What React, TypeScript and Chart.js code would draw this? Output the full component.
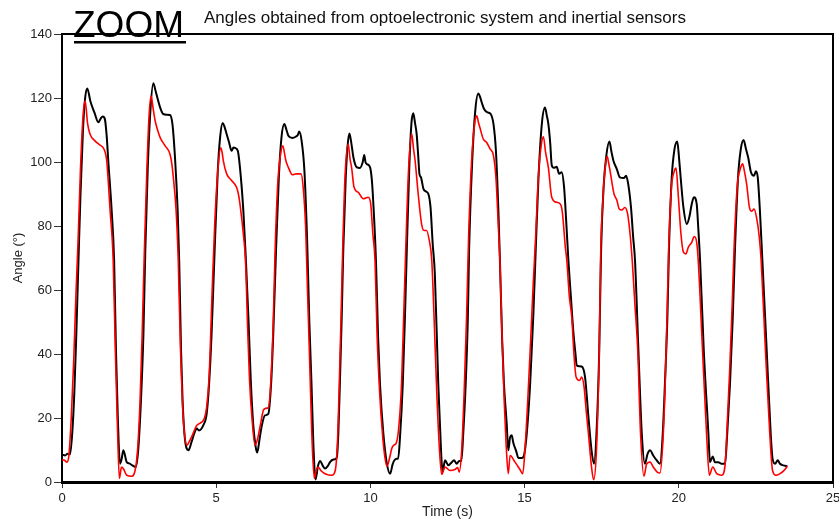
import React, { useEffect, useRef } from 'react';
import { Chart, registerables } from 'chart.js';

Chart.register(...registerables);

const chartTitle = 'Angles obtained from optoelectronic system and inertial sensors';
const zoomLabel = 'ZOOM';
const xAxisTitle = 'Time (s)';
const yAxisTitle = 'Angle (°)';

const xTickValues = [0, 5, 10, 15, 20, 25];
const yTickValues = [0, 20, 40, 60, 80, 100, 120, 140];

// Optoelectronic system (black)
const opticalTime = [
  0.0, 0.1, 0.18, 0.26, 0.33, 0.4, 0.46, 0.53, 0.6, 0.68, 0.75, 0.82, 0.92, 1.05, 1.18, 1.25, 1.32, 1.39, 1.45, 1.5, 1.61, 1.69, 1.75, 1.81, 1.88, 1.93, 1.99, 2.1, 2.18, 2.28, 2.39, 2.47, 2.56, 2.64,
  2.7, 2.78, 2.86, 2.96, 3.04, 3.12, 3.2, 3.28, 3.4, 3.5, 3.58, 3.67, 3.75, 3.8, 3.86, 3.91, 3.98, 4.1, 4.2, 4.3, 4.37, 4.44, 4.58, 4.69, 4.77, 4.85,
  4.94, 5.05, 5.13, 5.21, 5.27, 5.34, 5.42, 5.5, 5.56, 5.61, 5.7, 5.77, 5.88, 5.96, 6.05, 6.12, 6.2, 6.28, 6.33, 6.4, 6.47, 6.58, 6.69, 6.78, 6.85,
  6.94, 7.03, 7.12, 7.21, 7.28, 7.34, 7.47, 7.58, 7.65, 7.69, 7.77, 7.86, 7.95, 8.02, 8.09, 8.15, 8.22, 8.3, 8.37, 8.45, 8.53, 8.62, 8.69, 8.8, 8.91, 8.96, 9.01, 9.07,
  9.12, 9.2, 9.26, 9.32, 9.38, 9.45, 9.56, 9.66, 9.75, 9.8, 9.84, 9.88, 9.99, 10.05, 10.09, 10.18, 10.25, 10.31, 10.42, 10.53, 10.64, 10.72, 10.78, 10.85, 10.9, 10.96, 11.05, 11.12,
  11.18, 11.26, 11.33, 11.39, 11.45, 11.5, 11.55, 11.59, 11.64, 11.72, 11.8, 11.88, 11.95, 12.02, 12.09, 12.2, 12.29, 12.34, 12.42, 12.53, 12.64, 12.71, 12.8, 12.88, 12.95, 13.01, 13.09, 13.16,
  13.2, 13.3, 13.4, 13.5, 13.55, 13.61, 13.69, 13.8, 13.9, 13.99, 14.07, 14.15, 14.2, 14.27, 14.33, 14.42, 14.47, 14.53, 14.58, 14.64, 14.72, 14.8, 14.91, 14.98, 15.07, 15.18, 15.28,
  15.36, 15.45, 15.56, 15.66, 15.72, 15.77, 15.83, 15.88, 15.95, 16.04, 16.12, 16.2, 16.28, 16.36, 16.42, 16.5, 16.58, 16.65, 16.69, 16.77, 16.85, 16.96, 17.07, 17.17, 17.25, 17.33, 17.42,
  17.48, 17.56, 17.65, 17.75, 17.82, 17.88, 17.99, 18.09, 18.22, 18.29, 18.36, 18.45, 18.52, 18.58, 18.69, 18.8, 18.9, 18.99, 19.07, 19.17, 19.28, 19.39, 19.48, 19.55, 19.63,
  19.68, 19.77, 19.86, 19.95, 20.01, 20.06, 20.15, 20.26, 20.34, 20.42, 20.49, 20.58, 20.63, 20.69, 20.81, 20.96, 21.01, 21.1, 21.17, 21.28, 21.39, 21.5, 21.57, 21.66, 21.75,
  21.82, 21.92, 22.01, 22.1, 22.18, 22.25, 22.34, 22.44, 22.5, 22.56, 22.63, 22.71, 22.85, 22.98, 23.04, 23.12, 23.21, 23.28, 23.39, 23.52,
];
const opticalAngle = [
  8.6, 8.3, 8.8, 8.6, 15, 28, 45, 68, 90, 110, 120, 123, 119, 115.5, 112.4, 113.5, 114.2, 113.4, 108, 100.4, 84.8, 69.2, 41.1, 20, 5.7, 7, 9.9, 6.2, 5.8, 5.2, 4.7, 9.9, 25.5, 46.3,
  72, 98, 115, 124.6, 122, 119.1, 116.5, 115, 114.8, 114.7, 111.9, 100.4, 84.8, 69.2, 41.1, 25.5, 14, 9.9, 12.5, 15.5, 16.7, 16.1, 17.7, 21.3, 30.7, 46.3,
  70, 97, 108, 112.2, 111, 108.7, 106, 103.5, 104.5, 104.4, 103.5, 98.3, 84.8, 70, 50, 32, 18, 11, 9.2, 13, 17.2, 20.8, 21.3, 30.7, 46.3,
  72.4, 95, 108, 111.9, 110, 108.2, 107.5, 107.9, 108.5, 109.5, 106.6, 97.3, 75, 50, 30.7, 12, 0.8, 5, 6.6, 5.2, 4.2, 5, 6.2, 7, 7.6, 15.1, 30.7, 51.5,
  72.4, 95, 105, 108.9, 106, 101.4, 98.3, 98.1, 99.9, 102.2, 100, 99.4, 98.3, 94, 87.9, 69.2, 45, 30.7, 15.1, 6, 2.6, 5.5, 6.8, 7.3, 7.3, 14, 30.7, 51.5,
  72.4, 98, 112, 115.2, 112, 108.7, 102, 96.3, 95.2, 91.6, 90.8, 90, 85.8, 74.4, 65, 30.7, 9.9, 3.1, 6.8, 5.2, 6.2, 6.8, 5.7, 6.6, 6.6, 15.1, 30.7, 51.5,
  72.4, 100, 116, 121.4, 120.5, 118.6, 116.5, 115.5, 115, 111.9, 103.5, 84.8, 69.2, 45, 30.7, 18.2, 9.9, 14, 14.6, 12, 9.9, 7.5, 7.5, 8.3, 15.1, 30.7, 51.5,
  72.4, 95, 112, 117, 114.5, 111.9, 106, 99, 98.2, 98.5, 96.3, 96.8, 92.1, 79.6, 69.2, 58, 47, 40, 36.4, 36.2, 36.1, 32.8, 20.3, 9.9, 5.7, 15.1, 41.1,
  72.4, 92, 102, 106.4, 103, 100.4, 97.8, 95.2, 95, 95.7, 93.1, 85.8, 76.5, 69.2, 41.1, 15.1, 5.7, 8.9, 9.9, 8.3, 6.8, 5.7, 15.1, 30.7, 51.5,
  72.4, 95, 104, 106.4, 101, 95.2, 85.8, 80.6, 82.7, 86.9, 89, 86.9, 79.6, 69.2, 41.1, 15.1, 6.2, 8, 6.2, 6.2, 5.7, 5.7, 15.1, 30.7, 51.5,
  72.4, 95, 104, 106.9, 104, 101.4, 96.8, 95.7, 97.1, 95.2, 84.8, 69.2, 41.1, 15.1, 7.3, 5.7, 6.8, 5.7, 5.2, 4.9,
];

// Inertial sensors (red)
const inertialTime = [
  0.0, 0.08, 0.16, 0.22, 0.3, 0.38, 0.45, 0.52, 0.6, 0.68, 0.75, 0.83, 0.91, 1.07, 1.2, 1.34, 1.4, 1.45, 1.56, 1.66, 1.73, 1.79, 1.86, 1.93, 2.0, 2.1, 2.26, 2.37, 2.45, 2.53, 2.6,
  2.67, 2.75, 2.82, 2.89, 2.95, 3.02, 3.1, 3.18, 3.34, 3.5, 3.56, 3.61, 3.7, 3.77, 3.84, 3.9, 3.96, 4.05, 4.12, 4.2, 4.37, 4.53, 4.62, 4.69, 4.77,
  4.87, 4.95, 5.05, 5.15, 5.2, 5.23, 5.34, 5.5, 5.66, 5.72, 5.77, 5.88, 5.95, 6.02, 6.08, 6.16, 6.26, 6.33, 6.42, 6.53, 6.6, 6.69, 6.78, 6.85,
  6.91, 7.0, 7.08, 7.16, 7.21, 7.26, 7.34, 7.47, 7.61, 7.75, 7.82, 7.9, 7.96, 8.03, 8.1, 8.18, 8.25, 8.31, 8.4, 8.53, 8.75, 8.86, 8.93, 8.99, 9.05,
  9.1, 9.18, 9.28, 9.34, 9.39, 9.47, 9.61, 9.77, 9.93, 10.01, 10.08, 10.15, 10.22, 10.3, 10.4, 10.47, 10.54, 10.63, 10.69, 10.76, 10.83, 10.91, 11.01, 11.08,
  11.15, 11.24, 11.34, 11.4, 11.45, 11.55, 11.66, 11.74, 11.82, 11.91, 11.99, 12.07, 12.16, 12.24, 12.31, 12.42, 12.58, 12.74, 12.83, 12.88, 12.96, 13.04, 13.12,
  13.18, 13.28, 13.38, 13.45, 13.5, 13.55, 13.66, 13.77, 13.88, 13.99, 14.07, 14.15, 14.2, 14.27, 14.34, 14.4, 14.47, 14.53, 14.69, 14.83, 14.94, 15.01, 15.1, 15.2, 15.28,
  15.35, 15.45, 15.55, 15.61, 15.68, 15.77, 15.88, 16.04, 16.17, 16.23, 16.32, 16.37, 16.45, 16.53, 16.6, 16.67, 16.78, 16.85, 16.93, 17.0, 17.07, 17.17, 17.24, 17.33, 17.42,
  17.47, 17.55, 17.62, 17.68, 17.72, 17.77, 17.9, 17.99, 18.07, 18.15, 18.25, 18.34, 18.42, 18.49, 18.58, 18.67, 18.76, 18.87, 18.96, 19.07, 19.17, 19.3, 19.39, 19.48, 19.55, 19.62,
  19.67, 19.76, 19.85, 19.91, 19.98, 20.07, 20.15, 20.23, 20.31, 20.42, 20.5, 20.58, 20.63, 20.77, 20.9, 20.99, 21.1, 21.23, 21.39, 21.5, 21.57, 21.65, 21.73,
  21.8, 21.9, 22.0, 22.07, 22.13, 22.2, 22.29, 22.36, 22.44, 22.52, 22.61, 22.67, 22.81, 22.95, 23.04, 23.15, 23.28, 23.39, 23.52,
];
const inertialAngle = [
  7, 6.8, 6.2, 8, 20, 38, 58, 75, 98, 114, 119.1, 112, 108.7, 106.6, 105.5, 104.4, 103, 100.4, 84.8, 69.2, 41, 20, 1.1, 4.7, 4, 2.1, 1.8, 3.6, 9.9, 25, 46.3,
  72, 97, 114, 120.7, 117, 112.9, 110, 107.7, 105.1, 102.5, 99.5, 95.2, 84.8, 69.2, 42, 26, 16, 11.5, 12.5, 14, 17.7, 18.7, 20, 23.4, 32.8,
  60, 80, 97, 104.4, 102.5, 100.4, 96.3, 94.2, 92.1, 90, 86.9, 77.5, 69.2, 48, 32, 20, 11.5, 13, 17.2, 22.4, 23, 23.2, 32.8, 50,
  72.4, 94, 102, 105.1, 103, 100.4, 98.3, 96, 96.3, 96.3, 92.1, 79.6, 60, 38, 15, 1.1, 4, 4.7, 3.5, 2.6, 2.1, 3.6, 12, 30, 52,
  72, 96, 105.6, 101, 98.3, 92.1, 90.5, 88.5, 89, 86.9, 77.5, 69.2, 45, 28, 14, 7.8, 4.9, 7.8, 10.4, 11.5, 12, 16.1, 30.7, 52,
  74, 98, 108.7, 104, 100.4, 90, 80.6, 78.6, 78.6, 75.4, 69.2, 50, 26, 10, 2.4, 4.7, 3.6, 3.9, 4.5, 3.1, 9.9, 28, 52,
  75, 100, 112, 114.4, 112.5, 110.8, 107.2, 106.1, 104.1, 102, 95.2, 79.6, 69.2, 45, 25, 12, 2.6, 8.3, 6.2, 4.2, 2.6, 9.9, 25, 45, 62,
  75, 96, 106, 107.9, 103, 98.3, 89, 87.4, 86.7, 83.8, 73.4, 69.2, 58, 51.5, 40, 32.8, 31.7, 32.8, 29.6, 22, 15.1, 4.7, 0.7, 9.9, 41.1,
  72.4, 90, 99, 101.7, 100, 97.3, 90, 88.1, 85.3, 85, 85.8, 83.8, 77.5, 69.2, 55, 41, 15.1, 1.8, 5.7, 6.2, 4.7, 3.1, 2.8, 12, 28, 52,
  72, 92, 97, 98.1, 90, 77.5, 71.8, 71.3, 73.4, 74.9, 76.7, 74.9, 69.2, 41, 15.1, 2.1, 4.7, 2.6, 2.1, 5.2, 18, 35, 55,
  75, 93, 98, 99.4, 97, 93.1, 85.8, 84.6, 85.3, 82.7, 76.5, 69.2, 41, 15.1, 3.6, 2.1, 2.6, 3.4, 4.9,
];

const FONT = "'Liberation Sans', Arial, Helvetica, sans-serif";

const overlayPlugin = {
  id: 'overlay',
  afterDraw(chart: any) {
    const { ctx, chartArea } = chart;
    const { left, right, top, bottom } = chartArea;
    ctx.save();
    ctx.strokeStyle = '#000';
    ctx.lineWidth = 2;
    ctx.beginPath();
    ctx.moveTo(left - 1, top);
    ctx.lineTo(right, top);
    ctx.lineTo(right, bottom);
    ctx.stroke();

    ctx.fillStyle = '#000';
    ctx.textBaseline = 'alphabetic';
    ctx.textAlign = 'left';
    ctx.font = `37px ${FONT}`;
    ctx.fillText(zoomLabel, 73, 37);
    const w = ctx.measureText(zoomLabel).width;
    ctx.fillRect(74, 41, w + 1, 2.5);

    ctx.font = `17px ${FONT}`;
    ctx.fillStyle = '#111';
    ctx.fillText(chartTitle, 204, 23);
    ctx.restore();
  },
};

export default function App() {
  const ref = useRef<HTMLCanvasElement>(null);

  useEffect(() => {
    const canvas = ref.current;
    if (!canvas) return;
    Chart.defaults.font.family = FONT;
    const chart = new Chart(canvas, {
      type: 'line',
      data: {
        datasets: [
          {
            label: 'Inertial sensors',
            data: inertialTime.map((t, i) => ({ x: t, y: inertialAngle[i] })),
            borderColor: '#ff0000',
            borderWidth: 1.6,
            pointRadius: 0,
            fill: false,
            cubicInterpolationMode: 'monotone',
            order: 0,
          },
          {
            label: 'Optoelectronic system',
            data: opticalTime.map((t, i) => ({ x: t, y: opticalAngle[i] })),
            borderColor: '#000000',
            borderWidth: 2,
            pointRadius: 0,
            fill: false,
            cubicInterpolationMode: 'monotone',
            order: 1,
          },
        ],
      },
      options: {
        responsive: false,
        animation: false,
        devicePixelRatio: 1,
        layout: { padding: { top: 34, right: 6, left: 0, bottom: 0 } },
        plugins: {
          legend: { display: false },
          tooltip: { enabled: false },
          title: { display: false },
        },
        scales: {
          x: {
            type: 'linear',
            min: 0,
            max: 25,
            afterBuildTicks: (s: any) => {
              s.ticks = xTickValues.map((v) => ({ value: v }));
            },
            afterFit: (s: any) => {
              s.height = 40;
              s.paddingLeft = 0;
              s.paddingRight = 0;
            },
            grid: { drawOnChartArea: false, drawTicks: true, tickLength: 6, color: '#333', lineWidth: 1 },
            border: { display: true, color: '#000', width: 3 },
            ticks: { font: { size: 13, family: FONT }, color: '#222', padding: 3, maxRotation: 0, autoSkip: false },
            title: {
              display: true,
              text: xAxisTitle,
              font: { size: 14, family: FONT },
              color: '#222',
              padding: { top: 0, bottom: 1 },
            },
          },
          y: {
            type: 'linear',
            min: 0,
            max: 140,
            afterBuildTicks: (s: any) => {
              s.ticks = yTickValues.map((v) => ({ value: v }));
            },
            afterFit: (s: any) => {
              s.width = 62;
              s.paddingTop = 0;
              s.paddingBottom = 0;
            },
            grid: { drawOnChartArea: false, drawTicks: true, tickLength: 8, color: '#333', lineWidth: 1 },
            border: { display: true, color: '#000', width: 2 },
            ticks: { font: { size: 13, family: FONT }, color: '#222', padding: 2 },
            title: {
              display: true,
              text: yAxisTitle,
              font: { size: 13, family: FONT },
              color: '#222',
              padding: { top: 11, bottom: 0 },
            },
          },
        },
      },
      plugins: [overlayPlugin],
    } as any);
    return () => chart.destroy();
  }, []);

  return (
    <div style={{ position: 'absolute', left: 0, top: 0, width: 839, height: 522, background: '#fff' }}>
      <canvas ref={ref} width={839} height={522} style={{ width: 839, height: 522, display: 'block' }} />
    </div>
  );
}
